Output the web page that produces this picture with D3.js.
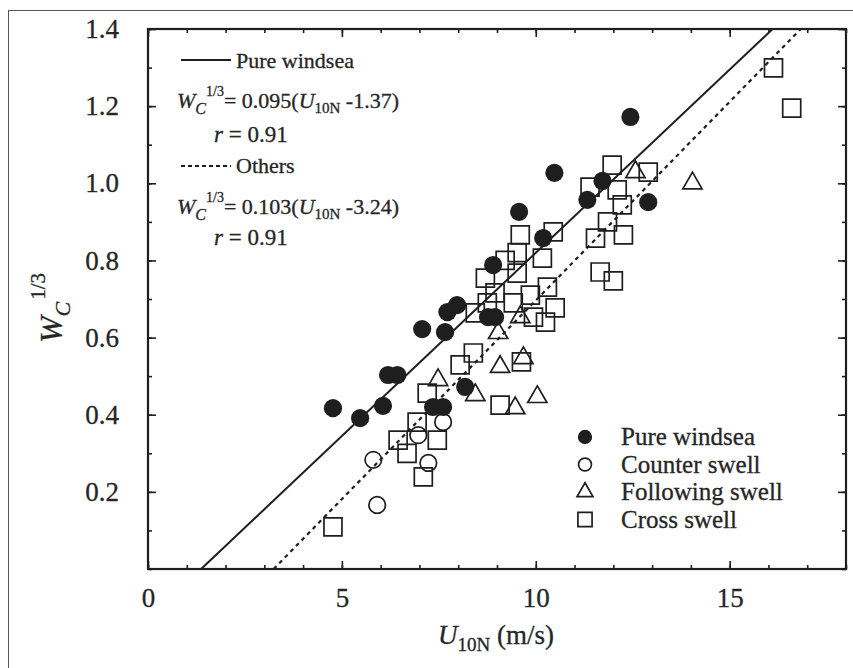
<!DOCTYPE html>
<html><head><meta charset="utf-8">
<script src="https://cdn.jsdelivr.net/npm/d3@7"></script>
<style>body{margin:0;background:#fff}svg{display:block}</style>
</head><body>
<svg id="c" width="853" height="668"></svg>
<script>
// ---- data ----
const pureWindsea = [[4.77,0.417],[5.47,0.391],[6.06,0.423],[6.19,0.503],[6.43,0.503],[7.07,0.622],[7.35,0.42],[7.61,0.42],[7.66,0.614],[7.72,0.666],[7.97,0.684],[8.18,0.472],[8.77,0.653],[8.95,0.653],[8.9,0.788],[9.57,0.926],[10.19,0.858],[10.48,1.027],[11.33,0.957],[11.72,1.006],[12.44,1.172],[12.9,0.951]];
const counterSwell = [[5.81,0.283],[5.91,0.166],[6.97,0.347],[7.23,0.275],[7.61,0.381]];
const followingSwell = [[7.48,0.49],[8.44,0.451],[9.08,0.524],[9.68,0.547],[9.47,0.417],[10.04,0.446],[9.03,0.612],[9.6,0.653],[12.57,1.029],[14.04,1.0]];
const crossSwell = [[4.77,0.109],[6.45,0.334],[6.68,0.30],[7.10,0.239],[6.94,0.381],[7.46,0.334],[7.2,0.456],[8.05,0.529],[8.39,0.56],[9.08,0.425],[9.63,0.537],[8.44,0.664],[8.75,0.69],[9.42,0.69],[9.94,0.653],[10.5,0.677],[8.7,0.754],[8.95,0.716],[9.21,0.80],[9.52,0.82],[9.52,0.767],[9.6,0.866],[9.86,0.71],[10.17,0.806],[10.3,0.731],[10.45,0.874],[10.25,0.64],[11.97,1.047],[12.9,1.029],[11.4,0.99],[12.1,0.983],[12.23,0.944],[11.85,0.9],[11.54,0.858],[12.26,0.866],[11.66,0.77],[12.0,0.747],[16.13,1.299],[16.6,1.195]];
const fitPure = {slope:0.095, x0:1.37};
const fitOthers = {slope:0.103, x0:3.24};
const xMajorTicks = [0,5,10,15];
const xMinorTicks = d3.range(0,19,1);
const yMajorTicks = [0.2,0.4,0.6,0.8,1.0,1.2,1.4];
const yMinorTicks = d3.range(0,1.41,0.1);
const legendLabels = ["Pure windsea","Counter swell","Following swell","Cross swell"];

// ---- layout ----
const svg = d3.select("#c");
const L=148,R=846,T=29,B=569;
const x = d3.scaleLinear([0,18],[L,R]);
const y = d3.scaleLinear([0,1.4],[B,T]);
const ink = "#1e1e1e";
const txtCol = "#262626";
const serif = "'Liberation Serif','Times New Roman','DejaVu Serif',serif";

// outer border
svg.append("rect").attr("x",8.5).attr("y",10.5).attr("width",900).attr("height",700)
  .attr("fill","none").attr("stroke","#555").attr("stroke-width",1);

// axes
function styleAxis(g){
  g.select(".domain").remove();
  g.selectAll("line").attr("stroke",ink).attr("stroke-width",1.6);
  g.selectAll("text").attr("font-family",serif).attr("font-size",27).attr("fill",txtCol)
    .attr("stroke",txtCol).attr("stroke-width",0.3);
}
svg.append("g").attr("transform",`translate(0,${B})`)
  .call(d3.axisBottom(x).tickValues(xMinorTicks).tickSize(-4).tickFormat("")).call(styleAxis);
svg.append("g").attr("transform",`translate(0,${B})`)
  .call(d3.axisBottom(x).tickValues(xMajorTicks).tickSize(-8).tickPadding(19).tickFormat(d3.format("d"))).call(styleAxis);
svg.append("g").attr("transform",`translate(0,${T})`)
  .call(d3.axisTop(x).tickValues(xMinorTicks).tickSize(-4).tickFormat("")).call(styleAxis);
svg.append("g").attr("transform",`translate(0,${T})`)
  .call(d3.axisTop(x).tickValues(xMajorTicks).tickSize(-8).tickFormat("")).call(styleAxis);
svg.append("g").attr("transform",`translate(${L},0)`)
  .call(d3.axisLeft(y).tickValues(yMinorTicks).tickSize(-4).tickFormat("")).call(styleAxis);
svg.append("g").attr("transform",`translate(${L},0)`)
  .call(d3.axisLeft(y).tickValues(yMajorTicks).tickSize(-8).tickPadding(29).tickFormat(d3.format(".1f"))).call(styleAxis);
svg.append("g").attr("transform",`translate(${R},0)`)
  .call(d3.axisRight(y).tickValues(yMinorTicks).tickSize(-4).tickFormat("")).call(styleAxis);
svg.append("g").attr("transform",`translate(${R},0)`)
  .call(d3.axisRight(y).tickValues(yMajorTicks).tickSize(-8).tickFormat("")).call(styleAxis);

svg.append("rect").attr("x",L).attr("y",T).attr("width",R-L).attr("height",B-T)
  .attr("fill","none").attr("stroke",ink).attr("stroke-width",2.2);

// fit lines
const line = d3.line().x(d=>x(d[0])).y(d=>y(d[1]));
function fitPts(f){ return [[f.x0,0],[f.x0+1.4/f.slope,1.4]]; }
svg.append("path").attr("d",line(fitPts(fitPure))).attr("stroke",ink).attr("stroke-width",2).attr("fill","none");
svg.append("path").attr("d",line(fitPts(fitOthers))).attr("stroke",ink).attr("stroke-width",2.2)
  .attr("stroke-dasharray","4,4").attr("fill","none");

// markers
function sym(type,size){ return d3.symbol().type(type).size(size)(); }
function plot(data,type,size,fill){
  svg.append("g").selectAll("path").data(data).join("path")
    .attr("d",sym(type,size))
    .attr("transform",d=>`translate(${x(d[0])},${y(d[1])})`)
    .attr("fill",fill?ink:"none").attr("stroke",ink).attr("stroke-width",fill?0:1.7);
}
plot(crossSwell,d3.symbolSquare,324,false);
plot(followingSwell,d3.symbolTriangle,160,false);
plot(counterSwell,d3.symbolCircle,215,false);
plot(pureWindsea,d3.symbolCircle,260,true);

// legend (bottom right)
const legTypes=[[d3.symbolCircle,160,true],[d3.symbolCircle,130,false],[d3.symbolTriangle,110,false],[d3.symbolSquare,200,false]];
legendLabels.forEach((lab,i)=>{
  const yy=437+i*27.5;
  const t=legTypes[i];
  svg.append("path").attr("d",sym(t[0],t[1])).attr("transform",`translate(585,${yy})`)
    .attr("fill",t[2]?ink:"none").attr("stroke",ink).attr("stroke-width",t[2]?0:1.7);
  svg.append("text").attr("x",621).attr("y",yy+8).text(lab)
    .attr("font-family",serif).attr("font-size",25).attr("fill",txtCol)
    .attr("stroke",txtCol).attr("stroke-width",0.3);
});

// annotations
function txt(xx,yy,size){ return svg.append("text").attr("x",xx).attr("y",yy)
  .attr("font-family",serif).attr("font-size",size).attr("fill",txtCol)
  .attr("stroke",txtCol).attr("stroke-width",0.3); }
svg.append("line").attr("x1",181).attr("x2",231).attr("y1",60).attr("y2",60).attr("stroke",ink).attr("stroke-width",2.2);
txt(236,68,22).text("Pure windsea");
function eq(yy,coef,c){
  const t=txt(177,yy,22);
  t.append("tspan").attr("font-style","italic").text("W");
  t.append("tspan").attr("font-style","italic").attr("font-size",16).attr("dy",6).text("C");
  t.append("tspan").attr("font-size",14).attr("dy",-18).text("1/3");
  t.append("tspan").attr("dy",12).text("= "+coef+"(");
  t.append("tspan").attr("font-style","italic").text("U");
  t.append("tspan").attr("font-size",15).attr("dy",5).text("10N");
  t.append("tspan").attr("dy",-5).text(" -"+c+")");
}
eq(108,"0.095","1.37");
txt(214,142,23).html("<tspan font-style='italic'>r</tspan> = 0.91");
svg.append("line").attr("x1",181).attr("x2",231).attr("y1",166).attr("y2",166).attr("stroke",ink)
  .attr("stroke-width",2.2).attr("stroke-dasharray","4,3");
txt(236,173,22).text("Others");
eq(214,"0.103","3.24");
txt(214,245,23).html("<tspan font-style='italic'>r</tspan> = 0.91");

// axis titles
const xt=txt(496,644,27).attr("text-anchor","middle");
xt.append("tspan").attr("font-style","italic").text("U");
xt.append("tspan").attr("font-size",19).attr("dy",7).text("10N");
xt.append("tspan").attr("dy",-7).text(" (m/s)");

const yt=svg.append("text").attr("transform","translate(62,308) rotate(-90)").attr("text-anchor","middle")
  .attr("font-family",serif).attr("font-size",32).attr("fill",txtCol).attr("stroke",txtCol).attr("stroke-width",0.3);
yt.append("tspan").attr("font-style","italic").text("W");
yt.append("tspan").attr("font-style","italic").attr("font-size",22).attr("dy",8).text("C");
yt.append("tspan").attr("font-size",21).attr("dy",-25).attr("dx",2).text("1/3");
</script>
</body></html>
